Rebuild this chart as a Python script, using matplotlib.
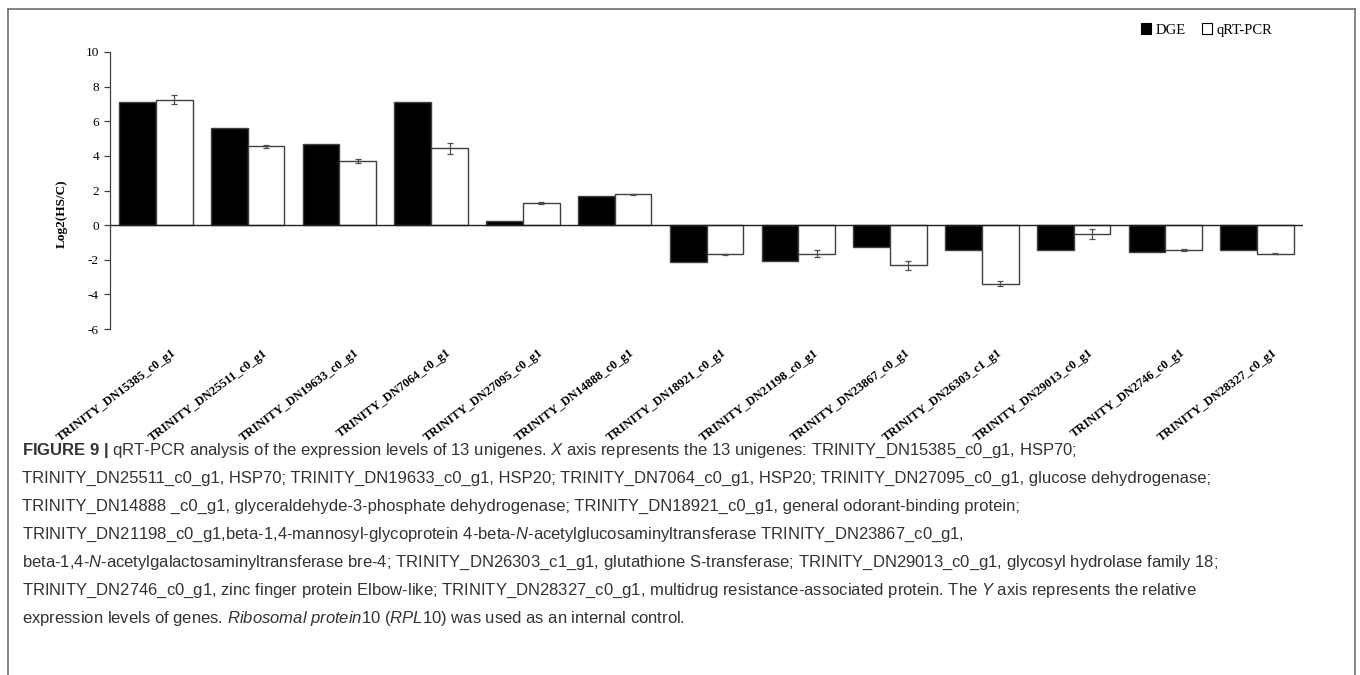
import matplotlib
matplotlib.use('Agg')
import matplotlib.pyplot as plt
import numpy as np
from matplotlib.lines import Line2D
from matplotlib.patches import Patch

genes = ['TRINITY_DN15385_c0_g1', 'TRINITY_DN25511_c0_g1', 'TRINITY_DN19633_c0_g1',
         'TRINITY_DN7064_c0_g1', 'TRINITY_DN27095_c0_g1', 'TRINITY_DN14888_c0_g1',
         'TRINITY_DN18921_c0_g1', 'TRINITY_DN21198_c0_g1', 'TRINITY_DN23867_c0_g1',
         'TRINITY_DN26303_c1_g1', 'TRINITY_DN29013_c0_g1', 'TRINITY_DN2746_c0_g1',
         'TRINITY_DN28327_c0_g1']
dge = [7.1, 5.6, 4.68, 7.12, 0.25, 1.66, -2.14, -2.1, -1.27, -1.46, -1.42, -1.54, -1.42]
qrt = [7.25, 4.55, 3.7, 4.43, 1.27, 1.79, -1.69, -1.64, -2.33, -3.39, -0.52, -1.44, -1.64]
qrt_err = [0.25, 0.1, 0.1, 0.3, 0.07, 0.03, 0.05, 0.18, 0.25, 0.15, 0.27, 0.05, 0.05]

caption = [
    r'$\mathbf{FIGURE\ 9\ |}$ qRT-PCR analysis of the expression levels of 13 unigenes. $\mathit{X}$ axis represents the 13 unigenes: TRINITY_DN15385_c0_g1, HSP70;',
    'TRINITY_DN25511_c0_g1, HSP70; TRINITY_DN19633_c0_g1, HSP20; TRINITY_DN7064_c0_g1, HSP20; TRINITY_DN27095_c0_g1, glucose dehydrogenase;',
    'TRINITY_DN14888 _c0_g1, glyceraldehyde-3-phosphate dehydrogenase; TRINITY_DN18921_c0_g1, general odorant-binding protein;',
    r'TRINITY_DN21198_c0_g1,beta-1,4-mannosyl-glycoprotein 4-beta-$\mathit{N}$-acetylglucosaminyltransferase TRINITY_DN23867_c0_g1,',
    r'beta-1,4-$\mathit{N}$-acetylgalactosaminyltransferase bre-4; TRINITY_DN26303_c1_g1, glutathione S-transferase; TRINITY_DN29013_c0_g1, glycosyl hydrolase family 18;',
    r'TRINITY_DN2746_c0_g1, zinc finger protein Elbow-like; TRINITY_DN28327_c0_g1, multidrug resistance-associated protein. The $\mathit{Y}$ axis represents the relative',
    r'expression levels of genes. $\mathit{Ribosomal\ protein10}$ ($\mathit{RPL10}$) was used as an internal control.',
]

plt.rcParams['mathtext.fontset'] = 'custom'
plt.rcParams['mathtext.rm'] = 'Liberation Sans'
plt.rcParams['mathtext.it'] = 'Liberation Sans:italic'
plt.rcParams['mathtext.bf'] = 'Liberation Sans:bold'
plt.rcParams['axes.unicode_minus'] = False

W, H = 1360, 675
fig = plt.figure(figsize=(13.6, 6.75), dpi=100)
ax = fig.add_axes([110 / W, 1 - 329 / H, (1303 - 110) / W, (329 - 52) / H])

x = np.arange(len(genes))
w = 0.4
ax.bar(x - w / 2, dge, w, color='black', edgecolor='#404040', linewidth=1.0, label='DGE')
ax.bar(x + w / 2, qrt, w, color='white', edgecolor='#404040', linewidth=1.0, label='qRT-PCR')
ax.errorbar(x + w / 2, qrt, yerr=qrt_err, fmt='none', ecolor='#505050', elinewidth=0.9,
            capsize=2.3, capthick=0.9)
ax.axhline(0, color='#202020', linewidth=1.0)

ax.set_xlim(-0.5, len(genes) - 0.5)
ax.set_ylim(-6, 10)
ax.set_yticks(np.arange(-6, 11, 2))
ax.set_xticks([])
for s in ['top', 'right', 'bottom']:
    ax.spines[s].set_visible(False)
ax.spines['left'].set_color('#404040')
ax.spines['left'].set_linewidth(0.9)
ax.tick_params(axis='y', direction='out', length=4, width=0.9, color='#404040', pad=4,
               labelsize=9.5)
for lab in ax.get_yticklabels():
    lab.set_family('Liberation Serif')

for i, g in enumerate(genes):
    ax.text(i + 0.2, -7.3, g, rotation=37, rotation_mode='anchor', ha='right', va='center',
            family='Liberation Serif', fontweight='bold', fontsize=9.0, clip_on=False)

fig.text(62 / W, 1 - 214 / H, 'Log2(HS/C)', rotation=90, ha='center', va='center',
         family='Liberation Serif', fontweight='bold', fontsize=9.5)

handles = [Patch(facecolor='black', edgecolor='black', linewidth=0.8),
           Patch(facecolor='white', edgecolor='black', linewidth=0.8)]
fig.legend(handles, ['DGE', 'qRT-PCR'], loc='center left', bbox_to_anchor=(1128 / W, 1 - 30 / H),
           ncol=2, frameon=False, handlelength=0.7, handleheight=0.7, handletextpad=0.3,
           columnspacing=1.1, prop={'family': 'Liberation Serif', 'size': 10.5})

for k, line in enumerate(caption):
    fig.text(22 / W, 1 - (455 + 28 * k) / H, line, ha='left', va='baseline',
             family='Liberation Sans', fontsize=12, color='#333333')

# panel frame
fc = '#707070'
fig.add_artist(Line2D([8 / W, 8 / W], [0, 1 - 9 / H], color=fc, linewidth=1.2))
fig.add_artist(Line2D([1355 / W, 1355 / W], [0, 1 - 9 / H], color=fc, linewidth=1.2))
fig.add_artist(Line2D([8 / W, 1355 / W], [1 - 9 / H, 1 - 9 / H], color=fc, linewidth=1.2))

fig.savefig('out.png', dpi=100)
